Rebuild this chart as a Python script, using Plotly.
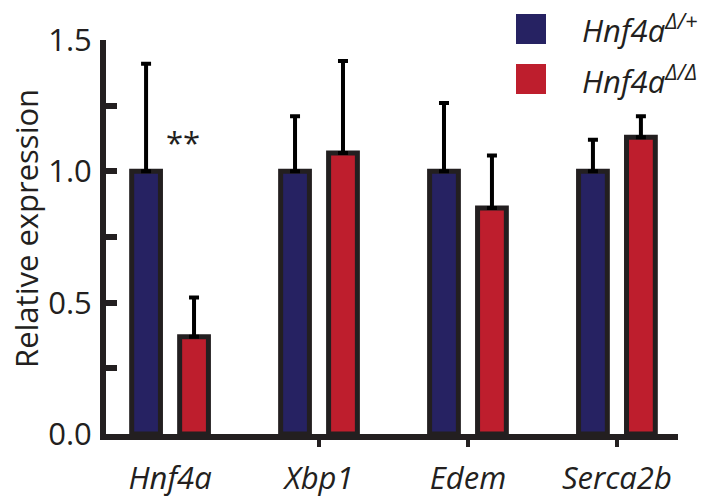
import plotly.graph_objects as go

# Gene categories and group means / upper error (SD) for each genotype
genes = ["Hnf4a", "Xbp1", "Edem", "Serca2b"]
het_values = [1.0, 1.0, 1.0, 1.0]
het_err = [0.41, 0.21, 0.26, 0.12]
ko_values = [0.37, 1.07, 0.86, 1.13]
ko_err = [0.15, 0.35, 0.20, 0.08]

y_tick_vals = [0, 0.25, 0.5, 0.75, 1.0, 1.25, 1.5]
y_tick_text = ["0.0", "", "0.5", "", "1.0", "", "1.5"]
x_tick_genes = ["Xbp1", "Edem", "Serca2b"]

het_name = "<i>Hnf4a<sup>Δ/+</sup></i>"
ko_name = "<i>Hnf4a<sup>Δ/Δ</sup></i>"

BLUE = "#262262"
RED = "#BE1E2D"
INK = "#231F20"
FONT = "Open Sans, Noto Sans, DejaVu Sans, sans-serif"
FS = 31

W, H = 701, 502
ML, MR, MT, MB = 106, 23, 40, 68
PW, PH = W - ML - MR, H - MT - MB
X_RANGE = [-0.43, 3.41]


def px_x(px):
    return (px - ML) / PW


def px_y(py):
    return (H - MB - py) / PH


fig = go.Figure()
for name, vals, errs, color in [
    (het_name, het_values, het_err, BLUE),
    (ko_name, ko_values, ko_err, RED),
]:
    fig.add_trace(go.Bar(
        x=genes, y=vals, name=name,
        marker=dict(color=color, line=dict(color=INK, width=5)),
        error_y=dict(type="data", symmetric=False, array=errs,
                     arrayminus=[0] * len(errs), color="#000000",
                     thickness=4, width=5),
        showlegend=False,
    ))

# Invisible helper trace so the secondary x axis (tick marks only) is drawn
fig.add_trace(go.Scatter(
    x=genes, y=[0] * len(genes), xaxis="x2", yaxis="y",
    mode="markers", marker=dict(opacity=0), hoverinfo="skip",
    showlegend=False,
))

fig.update_layout(
    width=W, height=H,
    margin=dict(l=ML, r=MR, t=MT, b=MB, autoexpand=False),
    paper_bgcolor="white", plot_bgcolor="white",
    barmode="group", bargap=0.356, bargroupgap=0.40,
    font=dict(family=FONT, size=FS, color=INK),
    xaxis=dict(
        type="category", range=X_RANGE, automargin=False,
        categoryorder="array", categoryarray=genes,
        showline=True, linecolor=INK, linewidth=6,
        ticks="", showgrid=False, zeroline=False,
        tickvals=genes, ticktext=[f"<i>{g}</i>" for g in genes],
        tickfont=dict(size=FS, color=INK), ticklabelstandoff=12,
    ),
    xaxis2=dict(
        type="category", range=X_RANGE, overlaying="x", automargin=False,
        categoryorder="array", categoryarray=genes,
        showline=False, showgrid=False, zeroline=False,
        ticks="outside", ticklen=12, tickwidth=4, tickcolor=INK,
        tickvals=x_tick_genes, showticklabels=False,
    ),
    yaxis=dict(
        range=[0, 1.5], showline=True, linecolor=INK, linewidth=6,
        automargin=False,
        ticks="inside", ticklen=11, tickwidth=6, tickcolor=INK,
        tickvals=y_tick_vals, ticktext=y_tick_text,
        showgrid=False, zeroline=False,
        tickfont=dict(size=FS, color=INK), ticklabelstandoff=2,
    ),
)

# Significance marker
fig.add_annotation(x=0.09, y=1.11, xref="x", yref="y", text="**",
                   showarrow=False, font=dict(size=FS, color=INK))

# Y-axis title
fig.add_annotation(x=px_x(26), y=px_y(229), xref="paper", yref="paper",
                   text="Relative expression", textangle=-90,
                   showarrow=False, xanchor="center", yanchor="middle",
                   font=dict(size=FS, color=INK))

# Legend: colour squares and genotype labels
for (name, color, cy) in [(het_name, BLUE, 29), (ko_name, RED, 79)]:
    fig.add_shape(type="rect", xref="paper", yref="paper",
                  x0=px_x(516), x1=px_x(546), y0=px_y(cy + 15), y1=px_y(cy - 15),
                  fillcolor=color, line=dict(width=0))
    fig.add_annotation(x=px_x(580), y=px_y(cy), xref="paper", yref="paper",
                       text=name, showarrow=False, xanchor="left",
                       yanchor="middle", font=dict(size=FS, color=INK))

fig.write_html("out.html")
